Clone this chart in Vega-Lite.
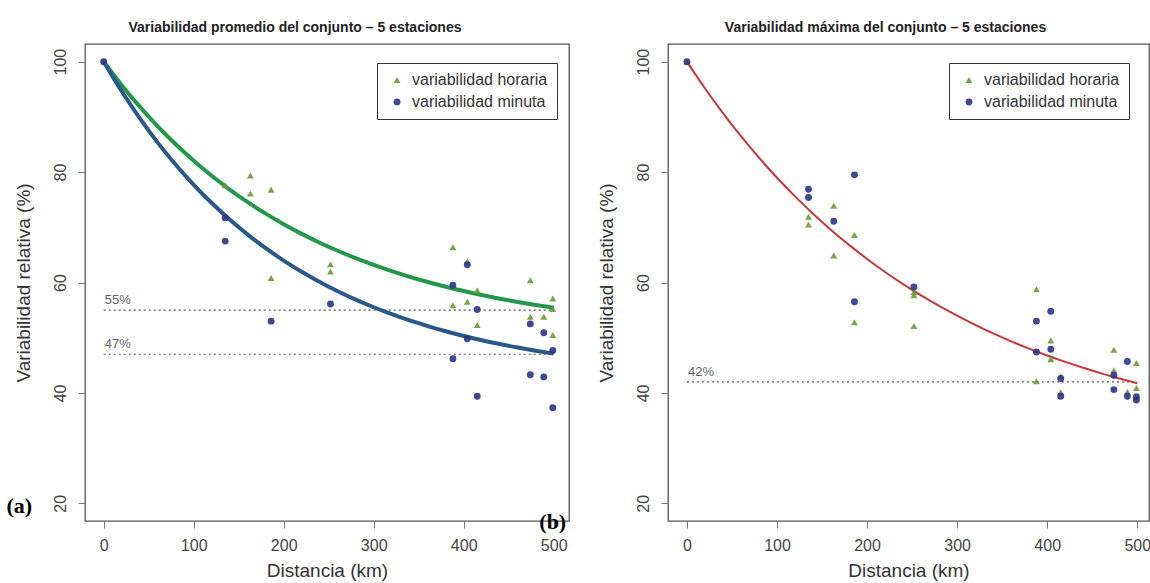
{
  "$schema": "https://vega.github.io/schema/vega-lite/v6.json",
  "padding": {"left": 5, "top": 20, "right": 0, "bottom": 0},
  "datasets": {
    "points": [
      {"panel": "a", "serie": "variabilidad horaria", "x": 0, "y": 100},
      {"panel": "a", "serie": "variabilidad horaria", "x": 135, "y": 77.6},
      {"panel": "a", "serie": "variabilidad horaria", "x": 163, "y": 79.4},
      {"panel": "a", "serie": "variabilidad horaria", "x": 163, "y": 76.1},
      {"panel": "a", "serie": "variabilidad horaria", "x": 186, "y": 76.8},
      {"panel": "a", "serie": "variabilidad horaria", "x": 186, "y": 60.8},
      {"panel": "a", "serie": "variabilidad horaria", "x": 252, "y": 63.3},
      {"panel": "a", "serie": "variabilidad horaria", "x": 252, "y": 62.0},
      {"panel": "a", "serie": "variabilidad horaria", "x": 388, "y": 66.4},
      {"panel": "a", "serie": "variabilidad horaria", "x": 388, "y": 55.9},
      {"panel": "a", "serie": "variabilidad horaria", "x": 404, "y": 63.8},
      {"panel": "a", "serie": "variabilidad horaria", "x": 404, "y": 56.5},
      {"panel": "a", "serie": "variabilidad horaria", "x": 415, "y": 58.6},
      {"panel": "a", "serie": "variabilidad horaria", "x": 415, "y": 52.3},
      {"panel": "a", "serie": "variabilidad horaria", "x": 474, "y": 60.4},
      {"panel": "a", "serie": "variabilidad horaria", "x": 474, "y": 53.8},
      {"panel": "a", "serie": "variabilidad horaria", "x": 489, "y": 53.8},
      {"panel": "a", "serie": "variabilidad horaria", "x": 499, "y": 57.1},
      {"panel": "a", "serie": "variabilidad horaria", "x": 499, "y": 55.2},
      {"panel": "a", "serie": "variabilidad horaria", "x": 499, "y": 50.5},
      {"panel": "a", "serie": "variabilidad minuta", "x": 0, "y": 100},
      {"panel": "a", "serie": "variabilidad minuta", "x": 135, "y": 71.7},
      {"panel": "a", "serie": "variabilidad minuta", "x": 135, "y": 67.5},
      {"panel": "a", "serie": "variabilidad minuta", "x": 186, "y": 53.0},
      {"panel": "a", "serie": "variabilidad minuta", "x": 252, "y": 56.1},
      {"panel": "a", "serie": "variabilidad minuta", "x": 388, "y": 59.5},
      {"panel": "a", "serie": "variabilidad minuta", "x": 388, "y": 46.2},
      {"panel": "a", "serie": "variabilidad minuta", "x": 404, "y": 63.2},
      {"panel": "a", "serie": "variabilidad minuta", "x": 404, "y": 49.8},
      {"panel": "a", "serie": "variabilidad minuta", "x": 415, "y": 55.1},
      {"panel": "a", "serie": "variabilidad minuta", "x": 415, "y": 39.4},
      {"panel": "a", "serie": "variabilidad minuta", "x": 474, "y": 52.5},
      {"panel": "a", "serie": "variabilidad minuta", "x": 474, "y": 43.3},
      {"panel": "a", "serie": "variabilidad minuta", "x": 489, "y": 50.9},
      {"panel": "a", "serie": "variabilidad minuta", "x": 489, "y": 42.9},
      {"panel": "a", "serie": "variabilidad minuta", "x": 499, "y": 47.7},
      {"panel": "a", "serie": "variabilidad minuta", "x": 499, "y": 37.3},
      {"panel": "b", "serie": "variabilidad horaria", "x": 0, "y": 100},
      {"panel": "b", "serie": "variabilidad horaria", "x": 135, "y": 71.9},
      {"panel": "b", "serie": "variabilidad horaria", "x": 135, "y": 70.5},
      {"panel": "b", "serie": "variabilidad horaria", "x": 163, "y": 73.9},
      {"panel": "b", "serie": "variabilidad horaria", "x": 163, "y": 64.9},
      {"panel": "b", "serie": "variabilidad horaria", "x": 186, "y": 68.6},
      {"panel": "b", "serie": "variabilidad horaria", "x": 186, "y": 52.8},
      {"panel": "b", "serie": "variabilidad horaria", "x": 252, "y": 58.3},
      {"panel": "b", "serie": "variabilidad horaria", "x": 252, "y": 57.7},
      {"panel": "b", "serie": "variabilidad horaria", "x": 252, "y": 52.1},
      {"panel": "b", "serie": "variabilidad horaria", "x": 388, "y": 58.8},
      {"panel": "b", "serie": "variabilidad horaria", "x": 388, "y": 42.1},
      {"panel": "b", "serie": "variabilidad horaria", "x": 404, "y": 49.5},
      {"panel": "b", "serie": "variabilidad horaria", "x": 404, "y": 46.1},
      {"panel": "b", "serie": "variabilidad horaria", "x": 415, "y": 43.0},
      {"panel": "b", "serie": "variabilidad horaria", "x": 415, "y": 40.1},
      {"panel": "b", "serie": "variabilidad horaria", "x": 474, "y": 47.8},
      {"panel": "b", "serie": "variabilidad horaria", "x": 474, "y": 44.1},
      {"panel": "b", "serie": "variabilidad horaria", "x": 489, "y": 40.2},
      {"panel": "b", "serie": "variabilidad horaria", "x": 499, "y": 45.4},
      {"panel": "b", "serie": "variabilidad horaria", "x": 499, "y": 40.9},
      {"panel": "b", "serie": "variabilidad minuta", "x": 0, "y": 100},
      {"panel": "b", "serie": "variabilidad minuta", "x": 135, "y": 76.9},
      {"panel": "b", "serie": "variabilidad minuta", "x": 135, "y": 75.4},
      {"panel": "b", "serie": "variabilidad minuta", "x": 163, "y": 71.1},
      {"panel": "b", "serie": "variabilidad minuta", "x": 186, "y": 79.5},
      {"panel": "b", "serie": "variabilidad minuta", "x": 186, "y": 56.5},
      {"panel": "b", "serie": "variabilidad minuta", "x": 252, "y": 59.2},
      {"panel": "b", "serie": "variabilidad minuta", "x": 388, "y": 53.0},
      {"panel": "b", "serie": "variabilidad minuta", "x": 388, "y": 47.4},
      {"panel": "b", "serie": "variabilidad minuta", "x": 404, "y": 54.8},
      {"panel": "b", "serie": "variabilidad minuta", "x": 404, "y": 47.9},
      {"panel": "b", "serie": "variabilidad minuta", "x": 415, "y": 42.6},
      {"panel": "b", "serie": "variabilidad minuta", "x": 415, "y": 39.4},
      {"panel": "b", "serie": "variabilidad minuta", "x": 474, "y": 43.2},
      {"panel": "b", "serie": "variabilidad minuta", "x": 474, "y": 40.6},
      {"panel": "b", "serie": "variabilidad minuta", "x": 489, "y": 45.7},
      {"panel": "b", "serie": "variabilidad minuta", "x": 489, "y": 39.4},
      {"panel": "b", "serie": "variabilidad minuta", "x": 499, "y": 39.3},
      {"panel": "b", "serie": "variabilidad minuta", "x": 499, "y": 38.7}
    ],
    "curves": [
      {"curve": "green", "x": 0, "y": 100}, {"curve": "green", "x": 20, "y": 95.74}, {"curve": "green", "x": 40, "y": 91.85},
      {"curve": "green", "x": 60, "y": 88.29}, {"curve": "green", "x": 80, "y": 85.04}, {"curve": "green", "x": 100, "y": 82.06},
      {"curve": "green", "x": 120, "y": 79.33}, {"curve": "green", "x": 140, "y": 76.84}, {"curve": "green", "x": 160, "y": 74.55},
      {"curve": "green", "x": 180, "y": 72.47}, {"curve": "green", "x": 200, "y": 70.56}, {"curve": "green", "x": 220, "y": 68.81},
      {"curve": "green", "x": 240, "y": 67.21}, {"curve": "green", "x": 260, "y": 65.75}, {"curve": "green", "x": 280, "y": 64.41},
      {"curve": "green", "x": 300, "y": 63.18}, {"curve": "green", "x": 320, "y": 62.06}, {"curve": "green", "x": 340, "y": 61.03},
      {"curve": "green", "x": 360, "y": 60.1}, {"curve": "green", "x": 380, "y": 59.24}, {"curve": "green", "x": 400, "y": 58.45},
      {"curve": "green", "x": 420, "y": 57.73}, {"curve": "green", "x": 440, "y": 57.07}, {"curve": "green", "x": 460, "y": 56.47},
      {"curve": "green", "x": 480, "y": 55.92}, {"curve": "green", "x": 500, "y": 55.42},
      {"curve": "blue", "x": 0, "y": 100}, {"curve": "blue", "x": 20, "y": 94.64}, {"curve": "blue", "x": 40, "y": 89.77},
      {"curve": "blue", "x": 60, "y": 85.34}, {"curve": "blue", "x": 80, "y": 81.33}, {"curve": "blue", "x": 100, "y": 77.7},
      {"curve": "blue", "x": 120, "y": 74.39}, {"curve": "blue", "x": 140, "y": 71.4}, {"curve": "blue", "x": 160, "y": 68.67},
      {"curve": "blue", "x": 180, "y": 66.21}, {"curve": "blue", "x": 200, "y": 63.97}, {"curve": "blue", "x": 220, "y": 61.94},
      {"curve": "blue", "x": 240, "y": 60.09}, {"curve": "blue", "x": 260, "y": 58.42}, {"curve": "blue", "x": 280, "y": 56.9},
      {"curve": "blue", "x": 300, "y": 55.52}, {"curve": "blue", "x": 320, "y": 54.27}, {"curve": "blue", "x": 340, "y": 53.13},
      {"curve": "blue", "x": 360, "y": 52.11}, {"curve": "blue", "x": 380, "y": 51.17}, {"curve": "blue", "x": 400, "y": 50.32},
      {"curve": "blue", "x": 420, "y": 49.55}, {"curve": "blue", "x": 440, "y": 48.85}, {"curve": "blue", "x": 460, "y": 48.22},
      {"curve": "blue", "x": 480, "y": 47.64}, {"curve": "blue", "x": 500, "y": 47.12},
      {"curve": "red", "x": 0, "y": 100}, {"curve": "red", "x": 20, "y": 95.18}, {"curve": "red", "x": 40, "y": 90.68},
      {"curve": "red", "x": 60, "y": 86.5}, {"curve": "red", "x": 80, "y": 82.61}, {"curve": "red", "x": 100, "y": 78.98},
      {"curve": "red", "x": 120, "y": 75.6}, {"curve": "red", "x": 140, "y": 72.46}, {"curve": "red", "x": 160, "y": 69.53},
      {"curve": "red", "x": 180, "y": 66.81}, {"curve": "red", "x": 200, "y": 64.27}, {"curve": "red", "x": 220, "y": 61.91},
      {"curve": "red", "x": 240, "y": 59.71}, {"curve": "red", "x": 260, "y": 57.66}, {"curve": "red", "x": 280, "y": 55.75},
      {"curve": "red", "x": 300, "y": 53.98}, {"curve": "red", "x": 320, "y": 52.32}, {"curve": "red", "x": 340, "y": 50.78},
      {"curve": "red", "x": 360, "y": 49.35}, {"curve": "red", "x": 380, "y": 48.02}, {"curve": "red", "x": 400, "y": 46.78},
      {"curve": "red", "x": 420, "y": 45.62}, {"curve": "red", "x": 440, "y": 44.55}, {"curve": "red", "x": 460, "y": 43.54},
      {"curve": "red", "x": 480, "y": 42.61}, {"curve": "red", "x": 500, "y": 41.74}
    ],
    "refs": [
      {"panel": "a", "x": 0, "x2": 500, "y": 55, "label": "55%"},
      {"panel": "a", "x": 0, "x2": 500, "y": 47, "label": "47%"},
      {"panel": "b", "x": 0, "x2": 500, "y": 42, "label": "42%"}
    ],
    "tags": [
      {"x": -108, "y": 19.6, "t": "(a)"},
      {"x": 484, "y": 16.6, "t": "(b)"}
    ]
  },
  "hconcat": [
    {
      "width": 484,
      "height": 477,
      "title": {"text": "Variabilidad promedio del conjunto – 5 estaciones", "dx": -32},
      "encoding": {
        "x": {"field": "x", "type": "quantitative", "scale": {"domain": [-20.8, 517], "nice": false, "zero": false}, "axis": {"values": [0, 100, 200, 300, 400, 500], "title": "Distancia (km)"}},
        "y": {"field": "y", "type": "quantitative", "scale": {"domain": [16.8, 103.2], "nice": false, "zero": false}, "axis": {"values": [20, 40, 60, 80, 100], "title": "Variabilidad relativa (%)"}}
      },
      "layer": [
        {
          "data": {"name": "refs"},
          "transform": [{"filter": "datum.panel === 'a'"}],
          "mark": {"type": "rule", "color": "#555", "strokeDash": [2, 3], "strokeWidth": 1.2},
          "encoding": {"x2": {"field": "x2"}}
        },
        {
          "data": {"name": "refs"},
          "transform": [{"filter": "datum.panel === 'a'"}],
          "mark": {"type": "text", "align": "left", "baseline": "bottom", "dx": 1, "dy": -3, "fontSize": 13, "color": "#666", "font": "Liberation Sans"},
          "encoding": {"text": {"field": "label"}}
        },
        {
          "data": {"name": "curves"},
          "transform": [{"filter": "datum.curve === 'green'"}],
          "mark": {"type": "line", "color": "#23984a", "strokeWidth": 4, "interpolate": "monotone"},
          "encoding": {}
        },
        {
          "data": {"name": "curves"},
          "transform": [{"filter": "datum.curve === 'blue'"}],
          "mark": {"type": "line", "color": "#28598a", "strokeWidth": 4, "interpolate": "monotone"},
          "encoding": {}
        },
        {
          "data": {"name": "points"},
          "transform": [{"filter": "datum.panel === 'a'"}],
          "mark": {"type": "point", "filled": true, "size": 48, "opacity": 0.9},
          "encoding": {
            "color": {"field": "serie", "type": "nominal", "scale": {"domain": ["variabilidad horaria", "variabilidad minuta"], "range": ["#6b9a37", "#2b3487"]}, "legend": {"orient": "none", "legendX": 292, "legendY": 19, "title": null}},
            "shape": {"field": "serie", "type": "nominal", "scale": {"domain": ["variabilidad horaria", "variabilidad minuta"], "range": ["triangle-up", "circle"]}, "legend": {"orient": "none", "legendX": 292, "legendY": 19, "title": null}}
          }
        },
        {
          "data": {"name": "tags"},
          "mark": {"type": "text", "align": "left", "baseline": "middle", "font": "Liberation Serif", "fontWeight": "bold", "fontSize": 22, "color": "#000"},
          "encoding": {"text": {"field": "t"}}
        }
      ]
    },
    {
      "width": 481,
      "height": 477,
      "title": {"text": "Variabilidad máxima del conjunto – 5 estaciones", "dx": -23},
      "encoding": {
        "x": {"field": "x", "type": "quantitative", "scale": {"domain": [-21, 513], "nice": false, "zero": false}, "axis": {"values": [0, 100, 200, 300, 400, 500], "title": "Distancia (km)"}},
        "y": {"field": "y", "type": "quantitative", "scale": {"domain": [16.8, 103.2], "nice": false, "zero": false}, "axis": {"values": [20, 40, 60, 80, 100], "title": "Variabilidad relativa (%)"}}
      },
      "layer": [
        {
          "data": {"name": "refs"},
          "transform": [{"filter": "datum.panel === 'b'"}],
          "mark": {"type": "rule", "color": "#555", "strokeDash": [2, 3], "strokeWidth": 1.2},
          "encoding": {"x2": {"field": "x2"}}
        },
        {
          "data": {"name": "refs"},
          "transform": [{"filter": "datum.panel === 'b'"}],
          "mark": {"type": "text", "align": "left", "baseline": "bottom", "dx": 1, "dy": -3, "fontSize": 13, "color": "#666", "font": "Liberation Sans"},
          "encoding": {"text": {"field": "label"}}
        },
        {
          "data": {"name": "curves"},
          "transform": [{"filter": "datum.curve === 'red'"}],
          "mark": {"type": "line", "color": "#c8373a", "strokeWidth": 2, "interpolate": "monotone"},
          "encoding": {}
        },
        {
          "data": {"name": "points"},
          "transform": [{"filter": "datum.panel === 'b'"}],
          "mark": {"type": "point", "filled": true, "size": 48, "opacity": 0.9},
          "encoding": {
            "color": {"field": "serie", "type": "nominal", "scale": {"domain": ["variabilidad horaria", "variabilidad minuta"], "range": ["#6b9a37", "#2b3487"]}, "legend": {"orient": "none", "legendX": 281, "legendY": 19, "title": null}},
            "shape": {"field": "serie", "type": "nominal", "scale": {"domain": ["variabilidad horaria", "variabilidad minuta"], "range": ["triangle-up", "circle"]}, "legend": {"orient": "none", "legendX": 281, "legendY": 19, "title": null}}
          }
        }
      ]
    }
  ],
  "spacing": 99,
  "bounds": "flush",
  "resolve": {"scale": {"color": "independent", "shape": "independent", "x": "independent", "y": "independent"}, "legend": {"color": "independent", "shape": "independent"}},
  "config": {
    "font": "Liberation Sans",
    "background": "white",
    "view": {"stroke": "#555", "strokeWidth": 1.3},
    "title": {"fontSize": 14, "fontWeight": "bold", "font": "Liberation Sans", "color": "#222", "anchor": "middle", "offset": 9},
    "axis": {
      "grid": false,
      "domain": false,
      "tickColor": "#777",
      "tickSize": 7,
      "labelFont": "Liberation Sans",
      "labelFontSize": 16,
      "labelColor": "#444",
      "titleFont": "Liberation Sans",
      "titleFontSize": 19,
      "titleFontWeight": "normal",
      "titleColor": "#333"
    },
    "axisX": {"labelPadding": 9, "titlePadding": 8},
    "axisY": {"labelAngle": -90, "labelAlign": "center", "labelBaseline": "bottom", "labelPadding": 10, "titlePadding": 19},
    "legend": {
      "strokeColor": "#333",
      "fillColor": "white",
      "padding": 9,
      "rowPadding": 6,
      "labelFontSize": 16,
      "labelFont": "Liberation Sans",
      "labelColor": "#333",
      "symbolSize": 48,
      "symbolOffset": 3,
      "labelOffset": 7,
      "cornerRadius": 0
    }
  }
}
